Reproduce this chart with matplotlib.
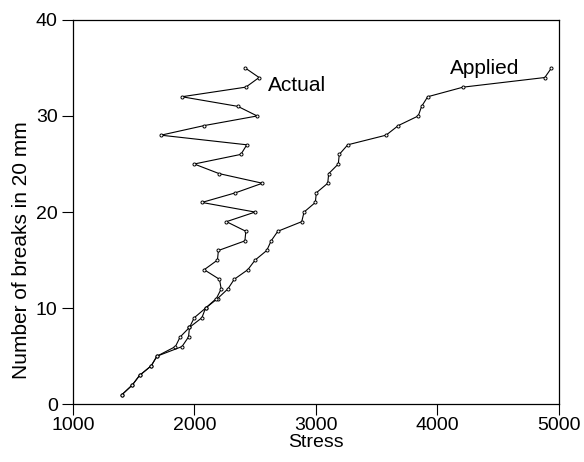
import matplotlib
matplotlib.use("Agg")
import matplotlib.pyplot as plt

plt.rcParams['font.family'] = ['Liberation Sans', 'DejaVu Sans']

breaks = list(range(1, 36))

applied = [1403, 1488, 1548, 1644, 1691, 1843, 1882, 1959, 1998, 2091,
           2190, 2275, 2327, 2439, 2499, 2595, 2631, 2686, 2883, 2902,
           2995, 3003, 3097, 3105, 3184, 3192, 3262, 3577, 3678, 3842,
           3870, 3920, 4212, 4884, 4939]

actual = [1403, 1488, 1548, 1644, 1691, 1897, 1951, 1959, 2061, 2091,
          2180, 2220, 2206, 2080, 2189, 2197, 2415, 2423, 2263, 2499,
          2061, 2337, 2559, 2203, 1998, 2382, 2431, 1724, 2080, 2516,
          2357, 1896, 2423, 2532, 2417]

fig = plt.figure(figsize=(5.84, 4.62), dpi=100)
ax = fig.add_axes([0.125, 0.125, 0.832, 0.832])

style = dict(color='black', linewidth=0.8, marker='o', markersize=2.2,
             markerfacecolor='white', markeredgewidth=0.7)
ax.plot(applied, breaks, **style)
ax.plot(actual, breaks, **style)

ax.text(2606, 32.6, 'Actual', fontsize=15, va='baseline', ha='left')
ax.text(4103, 34.4, 'Applied', fontsize=15, va='baseline', ha='left')

ax.set_xlim(1000, 5000)
ax.set_ylim(0, 40)
ax.set_xticks([1000, 2000, 3000, 4000, 5000])
ax.set_yticks([0, 10, 20, 30, 40])
ax.tick_params(direction='out', length=8, width=0.8, labelsize=14)
ax.tick_params(axis='x', pad=1)
ax.tick_params(axis='y', pad=3)
ax.set_xlabel('Stress', fontsize=14, labelpad=0)
ax.set_ylabel('Number of breaks in 20 mm', fontsize=15)
ax.yaxis.set_label_coords(-0.086, 0.40)
for s in ax.spines.values():
    s.set_linewidth(0.9)

fig.savefig('out.png', dpi=100)
